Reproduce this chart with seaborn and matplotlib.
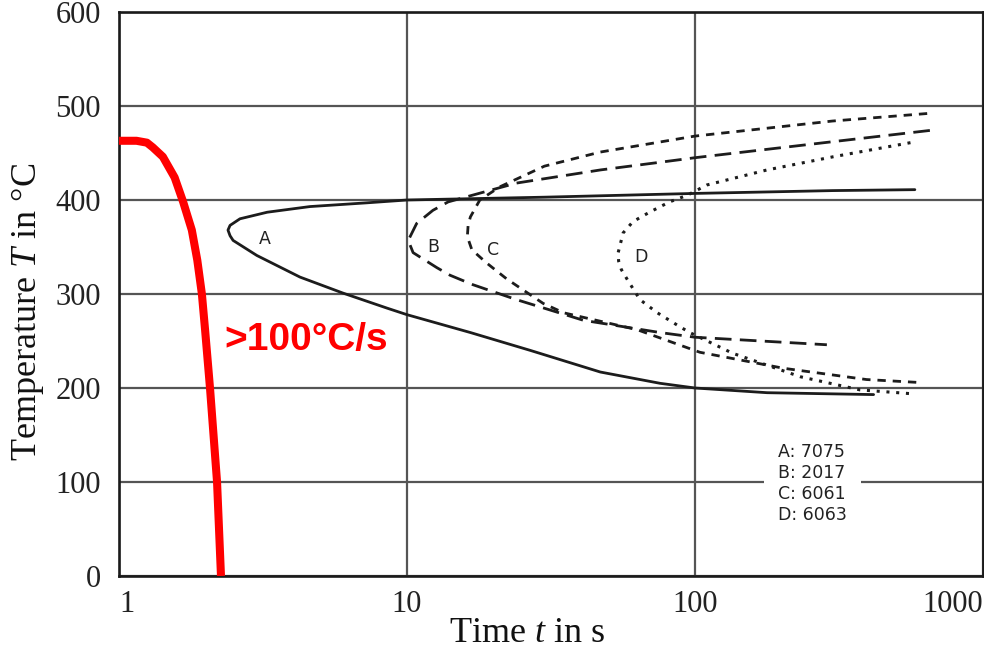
import matplotlib
matplotlib.use("Agg")
import matplotlib.pyplot as plt
import seaborn as sns
import pandas as pd

# ---------------- data ----------------
# red cooling curve (time s, temperature °C)
red_t = [1.0, 1.15, 1.25, 1.31, 1.42, 1.56, 1.67, 1.79, 1.87, 1.94, 1.99, 2.07, 2.19, 2.26]
red_T = [463, 463, 461, 456, 446, 424, 398, 368, 336, 300, 262, 200, 100, 0]

# A: 7075 (solid)
a_t = [580, 300, 100, 30, 10, 7.26, 4.6, 3.27, 2.63, 2.43, 2.39, 2.43, 2.49, 3.01,
       4.25, 5.99, 8.52, 10, 16.6, 26.8, 46.9, 75.6, 100, 178, 417]
a_T = [411, 410, 407, 403, 400, 397, 393, 387, 380, 373, 368, 362, 357, 341,
       318, 301, 285, 278, 259, 240, 217, 205, 200, 195, 193]

# B: 2017 (long dashes)
b_t = [654, 300, 100, 75, 47, 24, 13.9, 12.3, 10.8, 10.1, 10.5, 12.7, 14.1, 16.9,
       24, 41, 75.6, 100, 287]
b_T = [474, 462, 445, 440, 432, 418, 398, 389, 375, 357, 344, 328, 320, 310,
       294, 272, 259, 254, 246]

# C: 6061 (short dashes)
c_t = [640, 300, 100, 46.9, 30, 21.0, 17.9, 16.6, 16.3, 16.2, 16.8, 18.9, 22.2,
       29.7, 35, 63, 104, 203, 394, 590]
c_T = [492, 484, 468, 451, 436, 414, 400, 382, 373, 361, 347, 333, 316,
       290, 280, 262, 238, 221, 209, 206]

# D: 6063 (dotted)
d_t = [560, 302, 178, 110, 93.9, 81.6, 69.5, 60.9, 56.3, 54.1, 54.3, 55.5, 58.3,
       64.4, 74, 88.8, 95.9, 135, 232, 374, 560]
d_T = [461, 446, 432, 416, 405, 398, 387, 377, 365, 344, 335, 326, 315,
       294, 280, 265, 259, 237, 212, 198, 194]

curve_labels = ["A", "B", "C", "D"]
curve_label_t = [3.21, 12.3, 19.9, 65]
curve_label_T = [359, 350, 347, 339]

legend_lines = ["A: 7075", "B: 2017", "C: 6061", "D: 6063"]
rate_text = ">100°C/s"

x_ticks = [1, 10, 100, 1000]
x_tick_labels = ["1", "10", "100", "1000"]
y_ticks = [0, 100, 200, 300, 400, 500, 600]
y_tick_labels = ["0", "100", "200", "300", "400", "500", "600"]

# ---------------- style ----------------
sns.set_style("white")
plt.rcParams["font.family"] = ["Liberation Serif", "DejaVu Serif"]
plt.rcParams["mathtext.fontset"] = "custom"
plt.rcParams["mathtext.rm"] = "Liberation Serif"
plt.rcParams["mathtext.it"] = "Liberation Serif:italic"

fig = plt.figure(figsize=(9.84, 6.59), dpi=100)
W, H = 984, 659
L, R, T, B = 119, 983, 12, 576
ax = fig.add_axes([L / W, (H - B) / H, (R - L) / W, (B - T) / H])

ax.set_xscale("log")
ax.set_xlim(1, 1000)
ax.set_ylim(0, 600)

def draw(t, temp, **kw):
    df = pd.DataFrame({"t": t, "T": temp})
    sns.lineplot(data=df, x="t", y="T", sort=False, estimator=None, ax=ax, **kw)

ink = "#1c1c1c"
draw(a_t, a_T, color=ink, lw=2.0, zorder=3)
draw(b_t, b_T, color=ink, lw=2.0, dashes=(6, 3), zorder=3)
draw(c_t, c_T, color=ink, lw=2.0, dashes=(3, 2.5), zorder=3)
draw(d_t, d_T, color=ink, lw=2.2, dashes=(1, 2.2), zorder=3)
for ln in ax.lines:
    ln.set_solid_joinstyle("round")
draw(red_t, red_T, color="#ff0000", lw=5.8, zorder=4)
ax.lines[-1].set_solid_capstyle("butt")
ax.lines[-1].set_solid_joinstyle("round")

for lab, xt, yt in zip(curve_labels, curve_label_t, curve_label_T):
    ax.text(xt, yt, lab, fontsize=12.5, family="DejaVu Sans", ha="center",
            va="center", color="#222222", zorder=5)

ax.text(2.33, 251, rate_text, fontsize=28, fontweight="bold", color="#ff0000",
        family="Liberation Sans", ha="left", va="center", zorder=5)

ax.text(194, 141, "\n".join(legend_lines), fontsize=12.5, family="DejaVu Sans",
        ha="left", va="top", color="#222222", linespacing=1.2, zorder=5,
        bbox=dict(boxstyle="square,pad=0.8", fc="white", ec="none"))

# grid
ax.set_axisbelow(True)
ax.grid(True, which="major", color="#555555", lw=1.6)
ax.grid(False, which="minor")
ax.minorticks_off()

ax.set_xticks(x_ticks, labels=x_tick_labels)
ax.set_yticks(y_ticks, labels=y_tick_labels)
ax.tick_params(axis="both", labelsize=22, length=3, width=1, color="#777777",
               labelcolor="#222222", pad=7)
ax.tick_params(axis="y", pad=10)
xl = ax.get_xticklabels()
xl[0].set_ha("left")
xl[-1].set_ha("right")

for s in ax.spines.values():
    s.set_color("#1a1a1a")
    s.set_linewidth(1.9)

ax.set_xlabel("Time $t$ in s", fontsize=26, color="#111111")
ax.set_ylabel("Temperature $T$ in °C", fontsize=26, color="#111111")
ax.xaxis.set_label_coords((527 - L) / (R - L), (B - 633) / (B - T))
ax.xaxis.label.set_va("center")
ax.yaxis.set_label_coords((28 - L) / (R - L), (B - 312) / (B - T))
ax.yaxis.label.set_va("center")

fig.savefig("out.png", dpi=100)
